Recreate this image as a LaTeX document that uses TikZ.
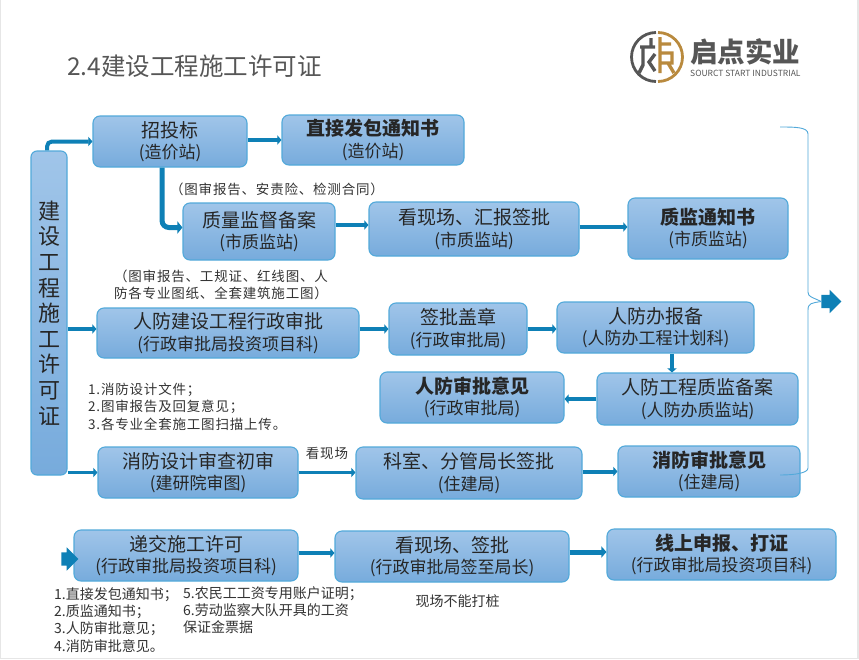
\documentclass[tikz,border=0pt]{standalone}
\usepackage{fontspec}
\setmainfont{Noto Sans CJK SC}
\usetikzlibrary{arrows.meta,shapes.arrows}
\definecolor{boxtop}{HTML}{A0C5E9}
\definecolor{boxbot}{HTML}{77ABDC}
\definecolor{boxline}{HTML}{52A9DA}
\definecolor{flowblue}{HTML}{0E80B6}
\definecolor{inkgray}{HTML}{565656}
\definecolor{logoorange}{HTML}{B98A3E}
\definecolor{pageedge}{HTML}{E6E6E6}

\begin{document}
\begin{tikzpicture}[x=1pt,y=-1pt,
                    box/.style={draw=boxline,line width=1.1pt,rounded corners=7pt,
                                top color=boxtop,bottom color=boxbot,align=center,
                                inner sep=0pt,text=black!85,font=\fontsize{19}{21.5}\selectfont,
                                execute at begin node={\rule{0pt}{20pt}}},
                    flow/.style={flowblue,line width=4pt,-{Triangle[length=4pt,width=9pt]}},
                    bracket/.style={boxline,line width=0.9pt},
                    blockarrow/.style={single arrow,fill=flowblue,inner sep=0pt,
                                       single arrow head extend=5pt,
                                       minimum height=20pt,minimum width=23pt},
                    note/.style={align=left,anchor=north west,inner sep=0pt,text=black!80,
                                 font=\fontsize{13.5}{17.3}\selectfont\addfontfeature{LetterSpace=6}},
                    list/.style={note,font=\fontsize{14}{17.4}\selectfont}]

  \fill[pageedge] (0,0) rectangle (859,659);
  \fill[white] (1,0) rectangle (857,658);
  \useasboundingbox (0,0) rectangle (859,659);

  % 标题
  \node[anchor=west,inner sep=0pt,text=inkgray,font=\fontsize{24.5}{28}\selectfont]
    (title) at (67,66) {2.4建设工程施工许可证};

  % 标志
  \draw[inkgray,line width=2.8pt] (656,32.5) arc[start angle=-90,end angle=-270,radius=24.5];
  \draw[logoorange,line width=2.8pt] (658,32.5) arc[start angle=-90,end angle=90,radius=24.5];
  \draw[inkgray,line width=3.4pt] (651,38) -- (651,47) (640,47) -- (655,47) (643,47) -- (643,65) -- (639,73)
                                  (655,54) -- (649,62) -- (655,71);
  \draw[logoorange,line width=3.4pt] (660,37) -- (660,73) (660,44) -- (671,44)
                                     (660,53) -- (672,53) -- (672,63) -- (660,63)
                                     (668,63) -- (674,73);
  \node[anchor=west,inner sep=0pt,text=inkgray,font=\fontsize{27.5}{30}\bfseries\selectfont]
    (logoname) at (690,52) {启点实业};
  \node[anchor=west,inner sep=0pt,text=inkgray,font=\fontsize{8.5}{9}\selectfont]
    (logosub) at (690,73) {SOURCT START INDUSTRIAL};

  % 左侧竖条
  \node[box,minimum width=36pt,minimum height=324pt,rounded corners=6pt,
        execute at begin node={},font=\fontsize{22}{25.6}\selectfont] (permit) at (49,313)
    {建\\设\\工\\程\\施\\工\\许\\可\\证};

  % 第一组
  \node[box,minimum width=154pt,minimum height=51pt] (bid) at (170,141.5)
    {招投标\\{\fontsize{17}{20}\selectfont (造价站)}};
  \node[box,minimum width=182pt,minimum height=50pt] (direct) at (373,140)
    {\textbf{直接发包通知书}\\{\fontsize{17}{20}\selectfont (造价站)}};
  \node[box,minimum width=152pt,minimum height=57pt] (quality) at (259,231.5)
    {质量监督备案\\{\fontsize{17}{20}\selectfont (市质监站)}};
  \node[box,minimum width=210pt,minimum height=54pt] (site) at (474,229)
    {看现场、汇报签批\\{\fontsize{17}{20}\selectfont (市质监站)}};
  \node[box,minimum width=160pt,minimum height=61pt] (qnotice) at (708,228.5)
    {\textbf{质监通知书}\\{\fontsize{17}{20}\selectfont (市质监站)}};

  % 第二组
  \node[box,minimum width=262pt,minimum height=50pt] (civil) at (228,333)
    {人防建设工程行政审批\\{\fontsize{17}{20}\selectfont (行政审批局投资项目科)}};
  \node[box,minimum width=138pt,minimum height=52pt] (seal) at (458,329)
    {签批盖章\\{\fontsize{17}{20}\selectfont (行政审批局)}};
  \node[box,minimum width=197pt,minimum height=51pt] (office) at (655.5,327.5)
    {人防办报备\\{\fontsize{17}{20}\selectfont (人防办工程计划科)}};
  \node[box,minimum width=201pt,minimum height=52pt] (cfile) at (697.5,399)
    {人防工程质监备案\\{\fontsize{17}{20}\selectfont (人防办质监站)}};
  \node[box,minimum width=184pt,minimum height=51pt] (copinion) at (472,397.5)
    {\textbf{人防审批意见}\\{\fontsize{17}{20}\selectfont (行政审批局)}};

  % 第三组
  \node[box,minimum width=200pt,minimum height=51pt] (fire) at (198,472.5)
    {消防设计审查初审\\{\fontsize{17}{20}\selectfont (建研院审图)}};
  \node[box,minimum width=226pt,minimum height=52pt] (bureau) at (469,473)
    {科室、分管局长签批\\{\fontsize{17}{20}\selectfont (住建局)}};
  \node[box,minimum width=182pt,minimum height=51pt] (fopinion) at (709,471.5)
    {\textbf{消防审批意见}\\{\fontsize{17}{20}\selectfont (住建局)}};

  % 第四组
  \node[box,minimum width=224pt,minimum height=51pt] (submit) at (186,555.5)
    {递交施工许可\\{\fontsize{17}{20}\selectfont (行政审批局投资项目科)}};
  \node[box,minimum width=234pt,minimum height=51pt] (sign) at (452,556.5)
    {看现场、签批\\{\fontsize{17}{20}\selectfont (行政审批局签至局长)}};
  \node[box,minimum width=229pt,minimum height=51pt] (online) at (721.5,554.5)
    {\textbf{线上申报、打证}\\{\fontsize{17}{20}\selectfont (行政审批局投资项目科)}};

  % 文字说明
  \node[note,anchor=center,align=center] (n1) at (277,189) {（图审报告、安责险、检测合同）};
  \node[note,anchor=center,align=center] (n2) at (221,285)
    {（图审报告、工规证、红线图、人\\防各专业图纸、全套建筑施工图）};
  \node[note] (n3) at (88,383) {1.消防设计文件；\\2.图审报告及回复意见；\\3.各专业全套施工图扫描上传。};
  \node[note,anchor=center] (n4) at (327,453) {看现场};
  \node[list] (n5) at (54,587)
    {1.直接发包通知书；\\2.质监通知书；\\3.人防审批意见；\\4.消防审批意见。};
  \node[list] (n6) at (183,586)
    {5.农民工工资专用账户证明；\\6.劳动监察大队开具的工资\\保证金票据};
  \node[list,anchor=center] (n7) at (457.5,601) {现场不能打桩};

  % 箭头
  \draw[flow,rounded corners=5pt] ([xshift=-2pt]permit.north) |- (bid.west);
  \draw[flow] (bid.east |- direct.west) -- (direct.west);
  \draw[flow,line width=5pt,rounded corners=7pt,-{Triangle[length=5pt,width=12pt]}]
    ([xshift=-8pt]bid.south) |- ([yshift=4pt]quality.west);
  \draw[flow] ([yshift=6.5pt]quality.east) -- ([yshift=4pt]site.west);
  \draw[flow] (site.east |- 0,227) -- (qnotice.west |- 0,227);
  \draw[flow] (permit.east |- 0,329) -- (civil.west |- 0,329);
  \draw[flow] (civil.east |- 0,329) -- (seal.west |- 0,329);
  \draw[flow] (seal.east |- 0,329) -- (office.west |- 0,329);
  \draw[flow] ([xshift=16.5pt]office.south) -- ([xshift=-25.5pt]cfile.north);
  \draw[flow] (cfile.west) -- (cfile.west -| copinion.east);
  \draw[flow,line width=3pt] (permit.east |- fire.east) -- (fire.west);
  \draw[flow,line width=2.5pt] (fire.east) -- (fire.east -| bureau.west);
  \draw[flow] (bureau.east |- fopinion.east) -- (fopinion.west);
  \draw[flow] (submit.east |- 0,553) -- (sign.west |- 0,553);
  \draw[flow,line width=5pt,-{Triangle[length=5pt,width=11pt]}] (sign.east |- 0,552) -- (online.west |- 0,552);

  % 右侧括号与块箭头
  \node[blockarrow] (next) at (828,301.5) {\rule{0pt}{13pt}};
  \node[blockarrow,minimum height=17pt] (enter) at (66.5,559) {\rule{0pt}{13pt}};
  \coordinate (brtop) at (780,127);
  \coordinate (brbot) at (780,475);
  \draw[bracket] (brtop) .. controls (795,127) and (808,127) .. (808,134) -- (808,292)
                 .. controls (808,297) and (812,297) .. (next.west);
  \draw[bracket] (next.west) .. controls (812,303) and (808,303) .. (808,310) -- (808,468)
                 .. controls (808,473) and (795,475) .. (brbot);
\end{tikzpicture}
\end{document}
